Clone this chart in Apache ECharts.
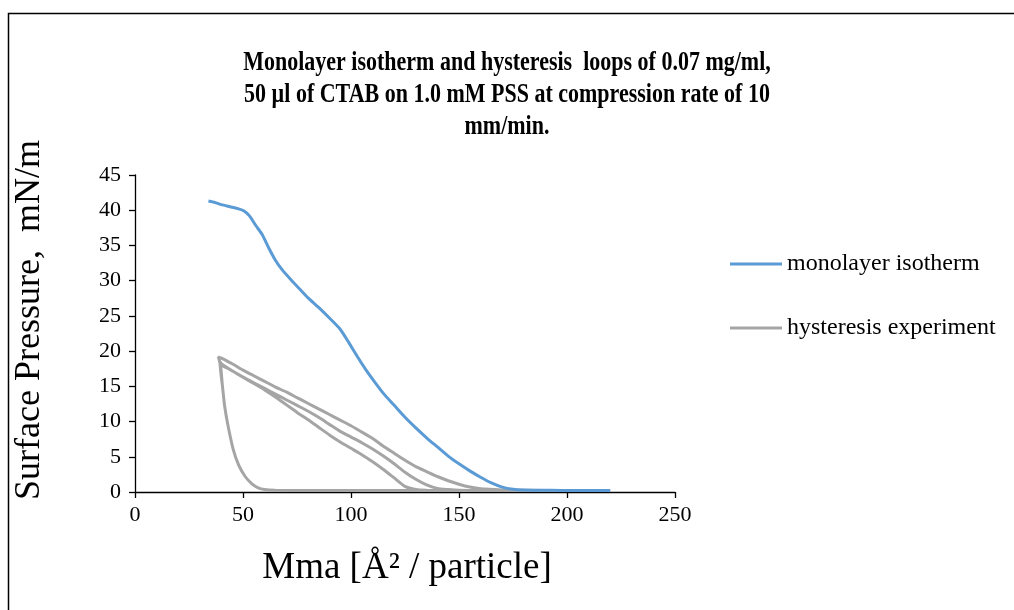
<!DOCTYPE html>
<html>
<head>
<meta charset="utf-8">
<title>CTAB monolayer isotherm</title>
<script src="https://cdn.jsdelivr.net/npm/echarts@6/dist/echarts.min.js"></script>
<style>
  html, body { margin: 0; padding: 0; background: #fff; }
  #chart { width: 1014px; height: 610px; }
</style>
</head>
<body>
<div id="chart"></div>
<script>
// Mean molecular area (Å²/particle) and surface pressure (mN/m)
const isothermArea = [34, 37, 40, 44, 48, 50.5, 53, 56, 59, 62, 65, 68, 72, 76, 80, 85, 90, 95, 99, 103, 107, 111, 115, 120, 125, 130, 135, 140, 145, 150, 155, 160, 165, 170, 175, 180, 190, 200, 220];
const isothermPressure = [41.3, 41.1, 40.8, 40.5, 40.2, 39.9, 39.2, 37.8, 36.5, 34.6, 32.9, 31.6, 30.2, 28.9, 27.6, 26.2, 24.7, 23.1, 21.2, 19.2, 17.3, 15.6, 14.0, 12.3, 10.6, 9.1, 7.7, 6.4, 5.1, 4.0, 3.0, 2.1, 1.3, 0.7, 0.4, 0.3, 0.25, 0.2, 0.2];

// Hysteresis run: three compression / expansion cycles, in recorded order
const cycle1CompArea = [220, 200, 180, 170, 160, 155, 150, 145, 140, 135, 130, 125, 120, 115, 110, 105, 100, 95, 90, 85, 80, 75, 70, 65, 60, 55, 50, 45, 40, 38.6];
const cycle1CompPressure = [0.2, 0.2, 0.25, 0.3, 0.45, 0.7, 1.1, 1.6, 2.2, 2.9, 3.6, 4.5, 5.5, 6.5, 7.6, 8.5, 9.4, 10.2, 11.0, 11.8, 12.6, 13.4, 14.2, 14.9, 15.7, 16.5, 17.3, 18.2, 19.0, 19.2];
const cycle2CompArea = [220, 180, 160, 150, 145, 140, 135, 130, 125, 120, 115, 110, 105, 100, 95, 90, 85, 80, 75, 70, 65, 60, 55, 50, 45, 40, 39.4];
const cycle2CompPressure = [0.2, 0.2, 0.2, 0.25, 0.35, 0.5, 1.0, 1.8, 2.8, 4.0, 5.1, 6.1, 7.0, 7.8, 8.6, 9.6, 10.6, 11.5, 12.3, 13.1, 13.9, 14.7, 15.5, 16.3, 17.2, 18.2, 18.5];
const cycle3CompArea = [220, 180, 150, 135, 130, 125, 120, 115, 110, 105, 100, 95, 90, 85, 80, 75, 70, 65, 60, 55, 50, 45, 40, 39];
const cycle3CompPressure = [0.2, 0.2, 0.2, 0.25, 0.35, 0.8, 2.0, 3.2, 4.3, 5.3, 6.2, 7.1, 8.1, 9.2, 10.3, 11.3, 12.4, 13.5, 14.5, 15.4, 16.3, 17.2, 18.0, 18.2];
const expansionArea = [39.4, 40.5, 41.5, 43, 45.5, 48, 51, 54, 57, 60, 65, 80, 100, 150, 220];
const expansionPressure = [18.2, 15.0, 12.2, 9.5, 6.0, 3.8, 2.2, 1.2, 0.6, 0.35, 0.25, 0.22, 0.2, 0.2, 0.2];

const xTicks = [0, 50, 100, 150, 200, 250];
const yTicks = [0, 5, 10, 15, 20, 25, 30, 35, 40, 45];

function pairs(xs, ys) {
  return xs.map((x, i) => [x, ys[i]]);
}

const isothermData = pairs(isothermArea, isothermPressure);
const hysteresisData = [].concat(
  pairs(cycle1CompArea, cycle1CompPressure),
  pairs(expansionArea, expansionPressure),
  pairs(cycle2CompArea, cycle2CompPressure),
  pairs(expansionArea, expansionPressure),
  pairs(cycle3CompArea, cycle3CompPressure),
  pairs(expansionArea, expansionPressure)
);

const serif = '"Liberation Serif", "Times New Roman", serif';
const chart = echarts.init(document.getElementById('chart'), null, { renderer: 'canvas' });

chart.setOption({
  backgroundColor: '#ffffff',
  animation: false,
  legend: {
    orient: 'vertical',
    left: 730,
    top: 252,
    padding: 0,
    itemWidth: 52,
    itemHeight: 3,
    itemGap: 40,
    icon: 'rect',
    textStyle: { fontFamily: serif, fontSize: 24, color: '#000', padding: [0, 0, 0, 0] },
    data: ['monolayer isotherm', 'hysteresis experiment']
  },
  grid: { left: 135, top: 175, width: 540, height: 317, containLabel: false },
  xAxis: {
    type: 'value',
    min: xTicks[0],
    max: xTicks[xTicks.length - 1],
    interval: xTicks[1] - xTicks[0],
    axisLine: { show: true, onZero: false, lineStyle: { color: '#000', width: 1.3 } },
    axisTick: { show: true, length: 6, inside: false, lineStyle: { color: '#000', width: 1.3 } },
    splitLine: { show: false },
    axisLabel: { fontFamily: serif, fontSize: 22, color: '#000', margin: 12 }
  },
  yAxis: {
    type: 'value',
    min: yTicks[0],
    max: yTicks[yTicks.length - 1],
    interval: yTicks[1] - yTicks[0],
    axisLine: { show: true, lineStyle: { color: '#000', width: 1.3 } },
    axisTick: { show: true, length: 6, lineStyle: { color: '#000', width: 1.3 } },
    splitLine: { show: false },
    axisLabel: { fontFamily: serif, fontSize: 22, color: '#000', margin: 14 }
  },
  graphic: [
    {
      type: 'rect',
      left: 6, top: 11,
      shape: { width: 1100, height: 700 },
      style: { fill: 'none', stroke: '#000', lineWidth: 1.5 },
      silent: true, z: -1
    },
    {
      // condensed bold heading, stretched vertically
      type: 'text',
      x: 507, y: 47,
      scaleY: 1.2,
      style: {
        text: 'Monolayer isotherm and hysteresis  loops of 0.07 mg/ml,\n50 µl of CTAB on 1.0 mM PSS at compression rate of 10\nmm/min.',
        fontFamily: serif, fontSize: 22, fontWeight: 'bold', fill: '#000',
        lineHeight: 26.7, textAlign: 'center', textVerticalAlign: 'top', align: 'center'
      }
    },
    {
      type: 'text',
      x: 30, y: 320,
      rotation: Math.PI / 2,
      style: {
        text: 'Surface Pressure,  mN/m',
        fontFamily: serif, fontSize: 36, fill: '#000',
        textAlign: 'center', textVerticalAlign: 'middle'
      }
    },
    {
      type: 'text',
      x: 407, y: 568,
      style: {
        text: 'Mma [Å² / particle]',
        fontFamily: serif, fontSize: 37, fill: '#000',
        textAlign: 'center', textVerticalAlign: 'middle'
      }
    }
  ],
  series: [
    {
      name: 'monolayer isotherm',
      type: 'line',
      data: isothermData,
      showSymbol: false,
      symbol: 'none',
      smooth: 0.2,
      color: '#5B9BD5',
      lineStyle: { color: '#5B9BD5', width: 3 },
      z: 3
    },
    {
      name: 'hysteresis experiment',
      type: 'line',
      data: hysteresisData,
      showSymbol: false,
      symbol: 'none',
      smooth: 0.2,
      color: '#A5A5A5',
      lineStyle: { color: '#A5A5A5', width: 3 },
      z: 2
    }
  ]
});
</script>
</body>
</html>
